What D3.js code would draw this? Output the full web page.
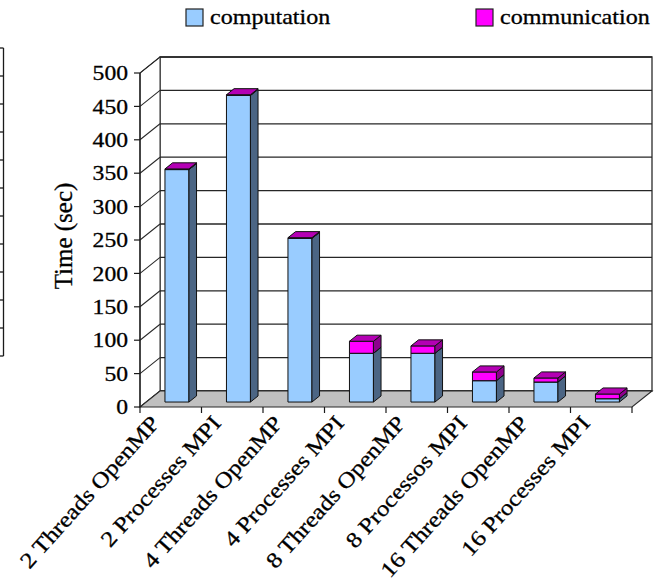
<!DOCTYPE html>
<html>
<head>
<meta charset="utf-8">
<script src="https://cdn.jsdelivr.net/npm/d3@7/dist/d3.min.js"></script>
<style>
  html, body { margin: 0; padding: 0; background: #ffffff; }
  svg { display: block; }
  text { font-family: "Liberation Serif", "Times New Roman", serif; fill: #000; stroke: #000; stroke-width: 0.3px; }
</style>
</head>
<body>
<svg id="chart" width="663" height="583"></svg>
<script>
// ---- data ----
const categories = [
  "2 Threads OpenMP", "2 Processes MPI", "4 Threads OpenMP", "4 Processes MPI",
  "8 Threads OpenMP", "8 Processos MPI", "16 Threads OpenMP", "16 Processes MPI"
];
const computation   = [348, 459, 245, 73, 73, 32, 30, 5];
const communication = [1, 1, 1, 18, 11, 13, 6, 7];
const seriesNames = ["computation", "communication"];
const yTicks = [0, 50, 100, 150, 200, 250, 300, 350, 400, 450, 500];

// ---- layout ----
const svg = d3.select("#chart");
const plot = { left: 140, right: 632, bottom: 407, top: 73 };
const depth = { dx: 20, dy: -16 };          // offset from the front plane to the back wall
const barDepth = { front: 0.31, back: 0.69 }; // bars sit in the middle of the floor depth

const y = d3.scaleLinear().domain([0, 500]).range([plot.bottom, plot.top]);
const x = d3.scaleBand().domain(categories).range([plot.left, plot.right])
  .paddingInner(0.61).paddingOuter(0.305);
const step = x.step();

// project a front-plane point back into the depth by fraction t
const P = (px, py, t) => [px + depth.dx * t, py + depth.dy * t];
const poly = pts => "M" + pts.map(p => p.join(",")).join("L") + "Z";

const colors = {
  computation:   { front: "#99ccff", side: "#4b6584", top: "#7ea8d2" },
  communication: { front: "#ff00ff", side: "#8e008e", top: "#b400b4" }
};

// ---- walls ----
const walls = svg.append("g");
// back wall
walls.append("path")
  .attr("d", poly([P(plot.left, plot.top, 1), P(plot.right, plot.top, 1),
                   P(plot.right, plot.bottom, 1), P(plot.left, plot.bottom, 1)]))
  .attr("fill", "#ffffff").attr("stroke", "#2b2b2b").attr("stroke-width", 1.3);
// side wall
walls.append("path")
  .attr("d", poly([[plot.left, plot.top], P(plot.left, plot.top, 1),
                   P(plot.left, plot.bottom, 1), [plot.left, plot.bottom]]))
  .attr("fill", "#ffffff").attr("stroke", "#2b2b2b").attr("stroke-width", 1);

// gridlines on back wall and side wall
yTicks.forEach(v => {
  const a = P(plot.left, y(v), 1), b = P(plot.right, y(v), 1);
  walls.append("line").attr("x1", a[0]).attr("y1", a[1]).attr("x2", b[0]).attr("y2", b[1])
    .attr("stroke", "#262626").attr("stroke-width", 1.3);
  walls.append("line").attr("x1", plot.left).attr("y1", y(v)).attr("x2", a[0]).attr("y2", a[1])
    .attr("stroke", "#262626").attr("stroke-width", 1.1);
});

// floor
walls.append("path")
  .attr("d", poly([[plot.left, plot.bottom], [plot.right, plot.bottom],
                   P(plot.right, plot.bottom, 1), P(plot.left, plot.bottom, 1)]))
  .attr("fill", "#c0c0c0").attr("stroke", "#2b2b2b").attr("stroke-width", 1.1);

// ---- bars ----
const table = categories.map((c, i) => ({ cat: c, computation: computation[i], communication: communication[i] }));
const stacked = d3.stack().keys(seriesNames)(table);
const bars = svg.append("g");
categories.forEach((c, i) => {
  const x0 = x(c), x1 = x(c) + x.bandwidth();
  const tf = barDepth.front, tb = barDepth.back;
  stacked.forEach(layer => {
    const seg = layer[i];
    const yb = y(seg[0]), yt = y(seg[1]);
    const col = colors[layer.key];
    const g = bars.append("g").attr("stroke", "#111").attr("stroke-width", 1).attr("stroke-linejoin", "round");
    // front face
    g.append("path").attr("fill", col.front)
      .attr("d", poly([P(x0, yt, tf), P(x1, yt, tf), P(x1, yb, tf), P(x0, yb, tf)]));
    // side face
    g.append("path").attr("fill", col.side)
      .attr("d", poly([P(x1, yt, tf), P(x1, yt, tb), P(x1, yb, tb), P(x1, yb, tf)]));
    // top face
    g.append("path").attr("fill", col.top)
      .attr("d", poly([P(x0, yt, tf), P(x1, yt, tf), P(x1, yt, tb), P(x0, yt, tb)]));
  });
});

// ---- value axis ----
const axis = svg.append("g");
axis.append("line").attr("x1", plot.left).attr("x2", plot.left)
  .attr("y1", plot.top).attr("y2", plot.bottom).attr("stroke", "#1a1a1a").attr("stroke-width", 1.3);
yTicks.forEach(v => {
  axis.append("line").attr("x1", plot.left - 6).attr("x2", plot.left)
    .attr("y1", y(v)).attr("y2", y(v)).attr("stroke", "#1a1a1a").attr("stroke-width", 1.2);
  axis.append("text")
    .attr("transform", `translate(${plot.left - 12},${y(v)}) scale(1.18,1)`)
    .attr("text-anchor", "end").attr("dy", "0.36em")
    .style("font-size", "20px").text(v);
});
svg.append("text")
  .attr("transform", `translate(72,236) rotate(-90)`)
  .attr("text-anchor", "middle").style("font-size", "25px").text("Time (sec)");

// ---- category axis ----
const cat = svg.append("g");
d3.range(categories.length + 1).forEach(k => {
  const xx = plot.left + k * step;
  cat.append("line").attr("x1", xx).attr("x2", xx).attr("y1", plot.bottom).attr("y2", plot.bottom + 6)
    .attr("stroke", "#1a1a1a").attr("stroke-width", 1.2);
});
categories.forEach(c => {
  const cx = x(c) + x.bandwidth() / 2;
  cat.append("text")
    .attr("transform", `translate(${cx - 16},${plot.bottom + 12}) rotate(-48) scale(1.14,1)`)
    .attr("text-anchor", "end").attr("dy", "0.35em")
    .style("font-size", "22px").text(c);
});

// ---- legend ----
const legend = svg.append("g");
[[186, "computation"], [476, "communication"]].forEach(([lx, key]) => {
  legend.append("rect").attr("x", lx).attr("y", 9).attr("width", 17).attr("height", 17)
    .attr("fill", colors[key].front).attr("stroke", "#222").attr("stroke-width", 1.2);
  legend.append("text").attr("transform", `translate(${lx + 24},24) scale(1.12,1)`)
    .style("font-size", "21.5px").text(key);
});

// ---- edge of the neighbouring panel on the left ----
const edge = svg.append("g").attr("stroke", "#1a1a1a").attr("stroke-width", 1.3);
const edgeY = d3.scaleLinear().domain([0, 11]).range([48, 356]);
edge.append("line").attr("x1", 3.5).attr("x2", 3.5).attr("y1", edgeY(0)).attr("y2", edgeY(11));
d3.range(12).forEach(k => {
  edge.append("line").attr("x1", 0).attr("x2", 3.5).attr("y1", edgeY(k)).attr("y2", edgeY(k));
});
</script>
</body>
</html>
